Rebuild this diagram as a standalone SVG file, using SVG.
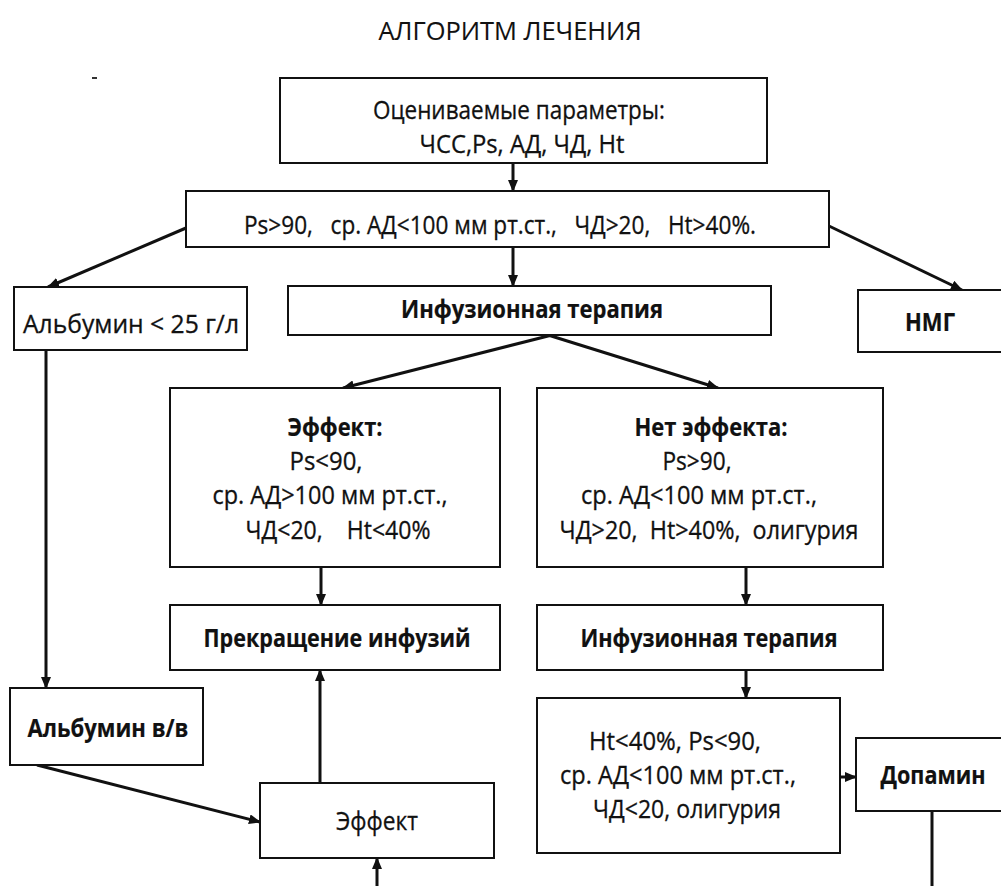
<svg xmlns="http://www.w3.org/2000/svg" width="1001" height="886" viewBox="0 0 1001 886">
<defs>
<style>
.box{fill:#fff;stroke:#111;stroke-width:2}
.t{font-family:"Open Sans","Noto Sans","Liberation Sans",sans-serif;font-size:25px;fill:#111;stroke:#111;stroke-width:0.3;text-anchor:middle}
.b{font-weight:bold;stroke-width:0.2}
.c{stroke:#111;stroke-width:3;fill:none}
</style>
<marker id="ah" markerUnits="userSpaceOnUse" markerWidth="12" markerHeight="10" refX="11" refY="5" orient="auto">
<path d="M0,0 L12,5 L0,10 z" fill="#111"/>
</marker>
</defs>
<rect width="1001" height="886" fill="#fff"/>
<text class="t" x="510" y="40" font-size="24" style="stroke-width:0.1" textLength="263" lengthAdjust="spacingAndGlyphs">АЛГОРИТМ ЛЕЧЕНИЯ</text>
<line x1="92" y1="78" x2="97" y2="78" stroke="#333" stroke-width="2"/>

<g id="connectors">
<line class="c" x1="513" y1="163" x2="513" y2="191" marker-end="url(#ah)"/>
<line class="c" x1="186" y1="228" x2="48" y2="287" marker-end="url(#ah)"/>
<line class="c" x1="829" y1="226" x2="962" y2="290" marker-end="url(#ah)"/>
<line class="c" x1="513" y1="247" x2="513" y2="286" marker-end="url(#ah)"/>
<line class="c" x1="552" y1="335" x2="343" y2="388" marker-end="url(#ah)"/>
<line class="c" x1="548" y1="335" x2="718" y2="388" marker-end="url(#ah)"/>
<line class="c" x1="321" y1="567" x2="321" y2="605" marker-end="url(#ah)"/>
<line class="c" x1="746" y1="567" x2="746" y2="605" marker-end="url(#ah)"/>
<line class="c" x1="746" y1="670" x2="746" y2="698" marker-end="url(#ah)"/>
<line class="c" x1="841" y1="777" x2="856" y2="777" marker-end="url(#ah)"/>
<line class="c" x1="932" y1="811" x2="932" y2="886"/>
<line class="c" x1="46" y1="350" x2="46" y2="688" marker-end="url(#ah)"/>
<line class="c" x1="37" y1="765" x2="260" y2="822" marker-end="url(#ah)"/>
<line class="c" x1="320" y1="783" x2="320" y2="670" marker-end="url(#ah)"/>
<line class="c" x1="377" y1="886" x2="377" y2="858" marker-end="url(#ah)"/>
</g>

<g id="params">
<rect class="box" x="280" y="78" width="487" height="85"/>
<text class="t" x="519" y="119" textLength="292" lengthAdjust="spacingAndGlyphs">Оцениваемые параметры:</text>
<text class="t" x="522" y="153" textLength="205" lengthAdjust="spacingAndGlyphs">ЧСС,Ps, АД, ЧД, Ht</text>
</g>
<g id="criteria">
<rect class="box" x="186" y="191" width="643" height="56"/>
<text class="t" x="500" y="234" textLength="512" lengthAdjust="spacingAndGlyphs" xml:space="preserve">Ps&gt;90,   ср. АД&lt;100 мм рт.ст.,   ЧД&gt;20,   Ht&gt;40%.</text>
</g>
<g id="albumin-low">
<rect class="box" x="14" y="287" width="233" height="63"/>
<text class="t" x="131" y="333" textLength="216" lengthAdjust="spacingAndGlyphs">Альбумин &lt; 25 г/л</text>
</g>
<g id="infusion1">
<rect class="box" x="288" y="286" width="483" height="49"/>
<text class="t b" x="532" y="318" textLength="262" lengthAdjust="spacingAndGlyphs">Инфузионная терапия</text>
</g>
<g id="nmg">
<rect class="box" x="858" y="290" width="150" height="62"/>
<text class="t b" x="930" y="331" textLength="50" lengthAdjust="spacingAndGlyphs">НМГ</text>
</g>
<g id="effect">
<rect class="box" x="170" y="388" width="330" height="179"/>
<text class="t b" x="335" y="436" textLength="95" lengthAdjust="spacingAndGlyphs">Эффект:</text>
<text class="t" x="326" y="470" textLength="73" lengthAdjust="spacingAndGlyphs">Ps&lt;90,</text>
<text class="t" x="330" y="504" textLength="235" lengthAdjust="spacingAndGlyphs">ср. АД&gt;100 мм рт.ст.,</text>
<text class="t" x="338" y="539" textLength="185" lengthAdjust="spacingAndGlyphs" xml:space="preserve">ЧД&lt;20,    Ht&lt;40%</text>
</g>
<g id="no-effect">
<rect class="box" x="537" y="388" width="346" height="179"/>
<text class="t b" x="711" y="436" textLength="153" lengthAdjust="spacingAndGlyphs">Нет эффекта:</text>
<text class="t" x="697" y="470" textLength="69" lengthAdjust="spacingAndGlyphs">Ps&gt;90,</text>
<text class="t" x="699" y="504" textLength="236" lengthAdjust="spacingAndGlyphs">ср. АД&lt;100 мм рт.ст.,</text>
<text class="t" x="709" y="539" textLength="299" lengthAdjust="spacingAndGlyphs" xml:space="preserve">ЧД&gt;20,  Ht&gt;40%,  олигурия</text>
</g>
<g id="stop">
<rect class="box" x="170" y="605" width="330" height="65"/>
<text class="t b" x="337" y="647" textLength="267" lengthAdjust="spacingAndGlyphs">Прекращение инфузий</text>
</g>
<g id="infusion2">
<rect class="box" x="537" y="605" width="346" height="65"/>
<text class="t b" x="709" y="647" textLength="257" lengthAdjust="spacingAndGlyphs">Инфузионная терапия</text>
</g>
<g id="check">
<rect class="box" x="537" y="698" width="303" height="155"/>
<text class="t" x="675" y="750" textLength="172" lengthAdjust="spacingAndGlyphs">Ht&lt;40%, Ps&lt;90,</text>
<text class="t" x="678" y="784" textLength="236" lengthAdjust="spacingAndGlyphs">ср. АД&lt;100 мм рт.ст.,</text>
<text class="t" x="687" y="818" textLength="188" lengthAdjust="spacingAndGlyphs">ЧД&lt;20, олигурия</text>
</g>
<g id="dopamine">
<rect class="box" x="856" y="738" width="152" height="73"/>
<text class="t b" x="933" y="784" textLength="105" lengthAdjust="spacingAndGlyphs">Допамин</text>
</g>
<g id="albumin-iv">
<rect class="box" x="10" y="688" width="193" height="77"/>
<text class="t b" x="108" y="737" textLength="161" lengthAdjust="spacingAndGlyphs">Альбумин в/в</text>
</g>
<g id="effect2">
<rect class="box" x="260" y="783" width="234" height="75"/>
<text class="t" x="377" y="830" textLength="82" lengthAdjust="spacingAndGlyphs">Эффект</text>
</g>
</svg>
